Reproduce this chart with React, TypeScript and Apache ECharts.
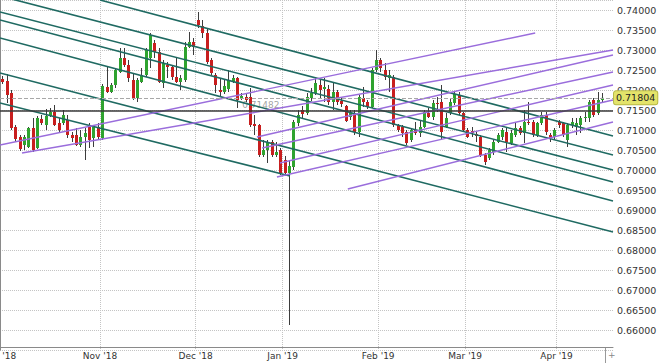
import React, { useEffect, useRef } from "react";
import * as echarts from "echarts";

// Month tick labels and the trading-day slot where each month starts
const monthLabels = ["Oct '18", "Nov '18", "Dec '18", "Jan '19", "Feb '19", "Mar '19", "Apr '19"];
const monthStarts = [0, 23, 45, 65, 87, 107, 128];
const slotCount = 141;

// Daily OHLC (AUD/USD), Oct 1 2018 – Apr 15 2019
const opens = [
  0.72275, 0.72225, 0.71925, 0.71075, 0.70825, 0.70625, 0.70575, 0.7105, 0.7055, 0.71275, 0.71125, 0.7135, 0.7145, 0.71175, 0.71175, 0.7125, 0.70875, 0.70875, 0.70625, 0.70825, 0.71125, 0.708, 0.71075,
  0.708, 0.72075, 0.7195, 0.72125, 0.7245, 0.728, 0.72625, 0.7225, 0.718, 0.722, 0.72375, 0.728, 0.73175, 0.7295, 0.72175, 0.72625, 0.72575, 0.72325, 0.722, 0.7225, 0.73075, 0.732,
  0.7375, 0.736, 0.73425, 0.7275, 0.72375, 0.72, 0.7195, 0.72025, 0.722, 0.723, 0.71775, 0.71825, 0.71825, 0.7115, 0.71125, 0.70375, 0.705, 0.707, 0.70375, 0.705,
  0.7025, 0.69925, 0.70075, 0.71175, 0.715, 0.71425, 0.718, 0.71925, 0.72125, 0.72025, 0.72025, 0.717, 0.7195, 0.71725, 0.716, 0.71325, 0.71375, 0.7095, 0.718, 0.717, 0.71575, 0.725,
  0.7275, 0.725, 0.723, 0.72325, 0.71125, 0.71075, 0.7095, 0.7075, 0.71, 0.70925, 0.71075, 0.71425, 0.71325, 0.71675, 0.717, 0.71075, 0.71425, 0.71675, 0.71875, 0.71425,
  0.71, 0.70975, 0.709, 0.70825, 0.70375, 0.703, 0.7045, 0.707, 0.70825, 0.7095, 0.70675, 0.70875, 0.7105, 0.70925, 0.712, 0.712, 0.70875, 0.71175, 0.71375, 0.70875, 0.70825,
  0.712, 0.71175, 0.7075, 0.71125, 0.71075, 0.71125, 0.713, 0.713, 0.7175, 0.71425, 0.7175
];
const closes = [
  0.722, 0.71875, 0.7105, 0.70775, 0.70525, 0.70825, 0.7105, 0.705, 0.713, 0.71175, 0.7135, 0.7145, 0.71125, 0.71, 0.71375, 0.70875, 0.708, 0.70625, 0.70825, 0.70925, 0.7075, 0.711, 0.70825,
  0.721, 0.7195, 0.72125, 0.725, 0.728, 0.72625, 0.723, 0.718, 0.7225, 0.72375, 0.73, 0.73375, 0.7295, 0.722, 0.72675, 0.72575, 0.72325, 0.722, 0.723, 0.73075, 0.732, 0.73075,
  0.73625, 0.73425, 0.727, 0.72425, 0.72125, 0.7195, 0.721, 0.7225, 0.723, 0.7175, 0.7185, 0.7175, 0.71125, 0.711, 0.70375, 0.705, 0.707, 0.70375, 0.7045, 0.69925,
  0.69925, 0.701, 0.712, 0.71375, 0.714, 0.71825, 0.71925, 0.72175, 0.72, 0.72075, 0.717, 0.7195, 0.717, 0.7165, 0.71225, 0.71425, 0.7095, 0.71825, 0.717, 0.71575, 0.725, 0.7275,
  0.7255, 0.72325, 0.72375, 0.71125, 0.71, 0.70925, 0.70675, 0.71, 0.70925, 0.71075, 0.7145, 0.71325, 0.71675, 0.7165, 0.7095, 0.713, 0.717, 0.719, 0.71425, 0.71,
  0.70825, 0.70925, 0.7085, 0.70375, 0.702, 0.705, 0.707, 0.70875, 0.71, 0.707, 0.70925, 0.7105, 0.70925, 0.712, 0.71175, 0.70875, 0.71175, 0.71375, 0.7095, 0.708, 0.71,
  0.71125, 0.70875, 0.71125, 0.712, 0.71175, 0.713, 0.71325, 0.717, 0.71375, 0.7175, 0.71804
];
const highs = [
  0.7235, 0.724, 0.72, 0.71125, 0.70875, 0.70875, 0.71075, 0.713, 0.7135, 0.71375, 0.71525, 0.7155, 0.71625, 0.713, 0.715, 0.71375, 0.7095, 0.7105, 0.71, 0.7105, 0.71175, 0.71125, 0.71175,
  0.7215, 0.72575, 0.72175, 0.7255, 0.7305, 0.7305, 0.7275, 0.72425, 0.723, 0.7255, 0.7305, 0.73425, 0.7325, 0.7305, 0.7275, 0.727, 0.72625, 0.728, 0.72375, 0.732, 0.7345, 0.733,
  0.7395, 0.7375, 0.7355, 0.728, 0.72425, 0.723, 0.7225, 0.725, 0.72375, 0.72325, 0.71925, 0.719, 0.7205, 0.71375, 0.7115, 0.7075, 0.7075, 0.7075, 0.707, 0.7055,
  0.7035, 0.7025, 0.7125, 0.715, 0.716, 0.71925, 0.7205, 0.723, 0.7225, 0.723, 0.72125, 0.722, 0.72, 0.71825, 0.71625, 0.715, 0.715, 0.71875, 0.72075, 0.7175, 0.7255, 0.73,
  0.728, 0.72675, 0.725, 0.72375, 0.7115, 0.71125, 0.71, 0.7105, 0.712, 0.7125, 0.715, 0.7155, 0.7175, 0.71825, 0.72125, 0.71425, 0.718, 0.7195, 0.7195, 0.7145,
  0.7105, 0.71075, 0.7095, 0.70875, 0.70425, 0.7055, 0.7075, 0.70925, 0.7105, 0.7105, 0.71, 0.712, 0.711, 0.715, 0.717, 0.7125, 0.712, 0.7145, 0.7145, 0.70925, 0.7105,
  0.7125, 0.712, 0.71175, 0.713, 0.713, 0.7135, 0.7145, 0.7175, 0.718, 0.7195, 0.71925
];
const lows = [
  0.7215, 0.71675, 0.71, 0.707, 0.70475, 0.705, 0.7055, 0.7045, 0.70525, 0.71125, 0.71, 0.71325, 0.711, 0.7095, 0.71125, 0.708, 0.707, 0.706, 0.70575, 0.7025, 0.7055, 0.70575, 0.7075,
  0.7075, 0.71925, 0.71925, 0.7205, 0.72425, 0.72575, 0.722, 0.7175, 0.717, 0.72175, 0.72325, 0.7255, 0.728, 0.72175, 0.7205, 0.723, 0.7225, 0.72175, 0.72, 0.722, 0.7305, 0.72875,
  0.7355, 0.733, 0.7265, 0.72375, 0.71925, 0.71825, 0.719, 0.7195, 0.72175, 0.7155, 0.7175, 0.717, 0.71075, 0.70875, 0.70325, 0.70325, 0.70175, 0.70325, 0.70325, 0.69875,
  0.6985, 0.66125, 0.7, 0.711, 0.713, 0.71375, 0.71725, 0.71875, 0.718, 0.717, 0.71625, 0.715, 0.71625, 0.71575, 0.712, 0.7125, 0.70875, 0.70825, 0.71575, 0.71525, 0.7155, 0.7245,
  0.7245, 0.7225, 0.7195, 0.71075, 0.7095, 0.70825, 0.70625, 0.707, 0.70875, 0.70825, 0.7105, 0.713, 0.7125, 0.7145, 0.7075, 0.7105, 0.71375, 0.71625, 0.71375, 0.7095,
  0.708, 0.70825, 0.707, 0.70325, 0.70125, 0.7025, 0.70375, 0.70675, 0.7075, 0.7045, 0.70625, 0.70825, 0.70875, 0.70675, 0.71125, 0.70825, 0.70825, 0.71125, 0.70875, 0.707, 0.7075,
  0.7105, 0.70825, 0.70575, 0.7105, 0.70875, 0.70925, 0.712, 0.712, 0.71325, 0.71375, 0.71675
];

// Trend lines: [[startSlot, startPrice], [endSlot, endPrice]]
const tealLines = [
  [[23.0, 0.7425], [141, 0.7085]],
  [[0, 0.7435], [141, 0.70375]],
  [[0, 0.7395], [141, 0.7]],
  [[0, 0.7375], [141, 0.697]],
  [[0, 0.733], [141, 0.69225]],
  [[0, 0.72425], [141, 0.6845]],
  [[0, 0.71675], [66.7, 0.6985]],
];
const purpleLines = [
  [[0, 0.70625], [123.1, 0.73425]],
  [[5.06, 0.70425], [141, 0.73]],
  [[59.1, 0.70825], [141, 0.72875]],
  [[60.3, 0.7055], [141, 0.7245]],
  [[64.4, 0.70175], [141, 0.72125]],
  [[63.7, 0.69825], [141, 0.7175]],
  [[80.0, 0.69525], [141, 0.712]],
];
const supportLevel = 0.71482;
const supportLabelSlot = 60.0;
const lastPrice = 0.71804;

const UP = "#2fa32f";
const DOWN = "#c81e1e";
const TEAL = "#1f6a62";
const PURPLE = "#9a6ddc";

export default function App() {
  const ref = useRef<HTMLDivElement>(null);
  useEffect(() => {
    document.body.style.margin = "0";
    if (!ref.current) return;
    const chart = echarts.init(ref.current, null, { renderer: "svg" });

    const slotLabels: string[] = [];
    for (let i = 0; i <= slotCount; i++) slotLabels.push("");
    monthStarts.forEach((s, k) => (slotLabels[s] = monthLabels[k]));
    const isMonth = (i: number) => monthStarts.indexOf(i) >= 0;

    const candleData = opens.map((o, i) => [i + 0.5, o, closes[i], lows[i], highs[i]]);

    const lineSeries: any[] = [];
    tealLines.forEach((ln) =>
      lineSeries.push({
        type: "line", xAxisIndex: 1, data: ln, showSymbol: false, symbol: "none", silent: true,
        lineStyle: { color: TEAL, width: 1.6 }, z: 4, clip: true,
      })
    );
    purpleLines.forEach((ln) =>
      lineSeries.push({
        type: "line", xAxisIndex: 1, data: ln, showSymbol: false, symbol: "none", silent: true,
        lineStyle: { color: PURPLE, width: 1.4 }, z: 4, clip: true,
      })
    );
    lineSeries[0].markLine = {
      silent: true, symbol: "none", animation: false, precision: 5,
      data: [
        { yAxis: supportLevel, lineStyle: { color: "#3a3a3a", width: 1.5, type: "solid" }, label: { show: false } },
        {
          yAxis: lastPrice,
          lineStyle: { color: "#a8a8a8", width: 1, type: "dashed" },
          label: {
            show: true, position: "end", distance: 1, formatter: lastPrice.toFixed(5),
            backgroundColor: "#e3e36a", borderColor: "#b9b948", borderWidth: 1, borderRadius: 2,
            padding: [2, 2, 1, 2], color: "#222", fontSize: 9.5, fontFamily: "DejaVu Sans",
          },
        },
      ],
    };

    chart.setOption({
      animation: false,
      grid: { left: 0, right: 47, top: 0, bottom: 13, containLabel: false, outerBoundsMode: "none" },
      xAxis: [
        {
          type: "category", data: slotLabels, boundaryGap: false, offset: -3,
          axisLine: { show: true, lineStyle: { color: "#8a8a8a" } },
          axisTick: { show: false },
          axisLabel: {
            interval: (i: number) => isMonth(i), color: "#333", fontSize: 9, fontFamily: "DejaVu Sans", margin: 4,
            hideOverlap: false,
          },
          splitLine: { show: true, interval: (i: number) => isMonth(i), lineStyle: { color: "#c4c4c4", type: "dotted" } },
        },
        { type: "value", min: 0, max: slotCount, show: false },
      ],
      yAxis: {
        type: "value", position: "right", min: 0.655, max: 0.7425, interval: 0.005, scale: true,
        axisLine: { show: true, lineStyle: { color: "#8a8a8a" } },
        axisTick: { show: false },
        axisLabel: {
          color: "#333", fontSize: 9.5, fontFamily: "DejaVu Sans", margin: 4,
          showMinLabel: false, showMaxLabel: false, formatter: (v: number) => v.toFixed(5),
        },
        splitLine: { show: true, lineStyle: { color: "#c4c4c4", type: "dotted" } },
      },
      series: [
        {
          type: "custom", xAxisIndex: 1, data: candleData, z: 3, clip: true,
          encode: { x: 0, y: [1, 2, 3, 4] },
          renderItem: (params: any, api: any) => {
            const x = api.value(0);
            const o = api.value(1), c = api.value(2), l = api.value(3), h = api.value(4);
            const pO = api.coord([x, o]);
            const pC = api.coord([x, c]);
            const pL = api.coord([x, l]);
            const pH = api.coord([x, h]);
            const w = api.size([1, 0])[0] * 0.7;
            const up = c >= o;
            const cx = Math.round(pO[0]) + 0.5;
            const top = Math.min(pO[1], pC[1]);
            const hgt = Math.max(1, Math.abs(pO[1] - pC[1]));
            return {
              type: "group",
              children: [
                { type: "line", shape: { x1: cx, y1: pH[1], x2: cx, y2: pL[1] }, style: { stroke: "#3c3c3c", lineWidth: 1 } },
                { type: "rect", shape: { x: cx - w / 2, y: top, width: w, height: hgt }, style: { fill: up ? UP : DOWN } },
              ],
            };
          },
        },
        ...lineSeries,
        {
          type: "scatter", xAxisIndex: 1, symbolSize: 0, silent: true, z: 2,
          data: [[supportLabelSlot, supportLevel]],
          label: {
            show: true, position: "top", distance: 1, formatter: supportLevel.toFixed(5),
            color: "#8a8a8a", fontSize: 9, fontFamily: "DejaVu Sans",
          },
        },
      ],
      graphic: [
        { type: "line", shape: { x1: 605.5, y1: 347, x2: 605.5, y2: 363 }, style: { stroke: "#999", lineWidth: 1 } },
        { type: "text", x: 608, y: 350, style: { text: "+", fill: "#888", fontSize: 9, fontFamily: "DejaVu Sans" } },
      ],
    });
    return () => chart.dispose();
  }, []);
  return <div ref={ref} style={{ width: 660, height: 363 }} />;
}
